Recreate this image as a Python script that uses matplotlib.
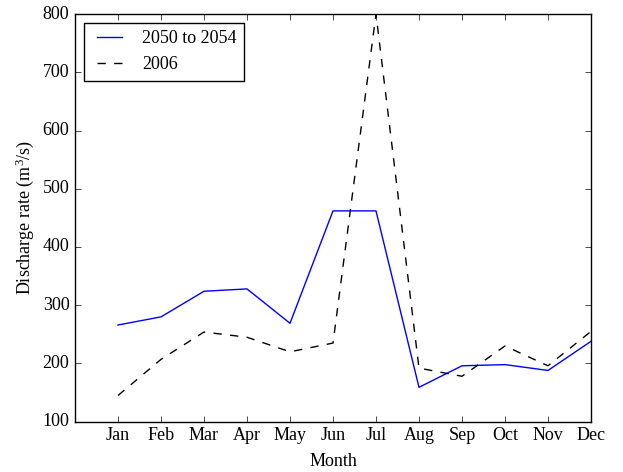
import matplotlib
matplotlib.use('Agg')
import matplotlib.pyplot as plt

plt.style.use('classic')
plt.rcParams['font.family'] = 'serif'
plt.rcParams['font.serif'] = ['Liberation Serif', 'DejaVu Serif']
plt.rcParams['mathtext.fontset'] = 'custom'
plt.rcParams['mathtext.rm'] = 'Liberation Serif'
plt.rcParams['mathtext.it'] = 'Liberation Serif:italic'

months = ['Jan', 'Feb', 'Mar', 'Apr', 'May', 'Jun',
          'Jul', 'Aug', 'Sep', 'Oct', 'Nov', 'Dec']
month_num = list(range(1, 13))

# discharge rates
future = [266, 280, 324, 328, 269, 462, 462, 159, 196, 198, 188, 238]
y2006 = [145, 207, 254, 245, 220, 235, 800, 192, 178, 230, 196, 255]

fig = plt.figure(figsize=(6.23, 4.72), dpi=100)
fig.patch.set_facecolor('white')
ax = fig.add_axes([0.1204, 0.1066, 0.8282, 0.8636])

ax.plot(month_num, future, color='blue', linestyle='-', label='2050 to 2054')
ax.plot(month_num, y2006, color='black', linestyle='--', label='2006')

ax.set_xlim(0, 12)
ax.set_ylim(100, 800)
ax.set_xticks(month_num)
ax.set_xticklabels(months)
ax.tick_params(labelsize=13)
ax.set_xlabel('Month', fontsize=13, labelpad=6)
ax.set_ylabel(r'Discharge rate (m$^3$/s)', fontsize=13)

ax.legend(loc='upper left', fontsize=13, frameon=True, fancybox=False)

fig.savefig('out.png', dpi=100, facecolor='white')
